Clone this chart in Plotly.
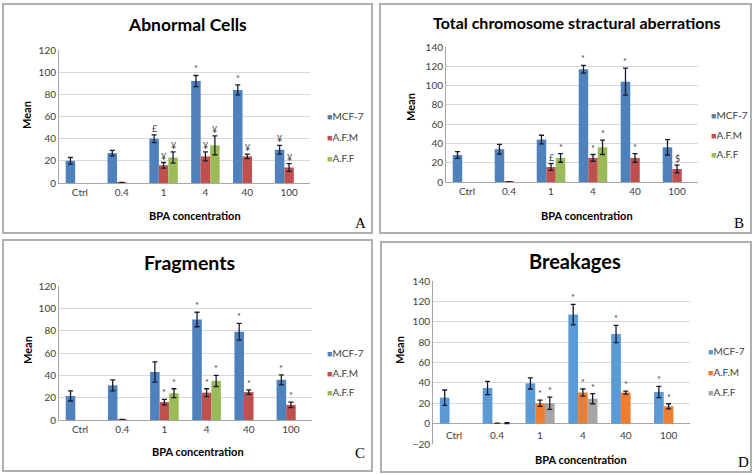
import plotly.graph_objects as go

W, H = 755, 475

categories = ["Ctrl", "0.4", "1", "4", "40", "100"]
series_names = ["MCF-7", "A.F.M", "A.F.F"]

# Panel A: Abnormal Cells (None = no bar shown)
a_mcf = [20, 27, 40, 92, 84, 30]
a_mcf_err = [3, 2.5, 3.5, 5, 4.5, 4]
a_afm = [None, 0.5, 16, 24, 24, 14]
a_afm_err = [None, None, 2.5, 4, 2, 3.5]
a_aff = [None, None, 23, 34, None, None]
a_aff_err = [None, None, 5, 8.5, None, None]
a_marks = [["", "", "£", "*", "*", "¥"], ["", "", "¥", "¥", "¥", "¥"], ["", "", "¥", "¥", "", ""]]

# Panel B: Total chromosome structural aberrations
b_mcf = [28, 34, 44, 117, 104, 36]
b_mcf_err = [3.5, 5, 4.5, 4, 14, 8]
b_afm = [None, 0.3, 15.5, 25, 25, 13.5]
b_afm_err = [None, None, 3.5, 3.5, 4.5, 4]
b_aff = [None, None, 25, 36, None, None]
b_aff_err = [None, None, 4.5, 7.5, None, None]
b_marks = [["", "", "", "*", "*", ""], ["", "", "£", "*", "*", "$"], ["", "", "*", "*", "", ""]]

# Panel C: Fragments
c_mcf = [21.5, 31, 43, 90, 79, 36]
c_mcf_err = [4.5, 5, 9, 6.5, 7.5, 4.5]
c_afm = [None, 0.5, 16, 24.5, 25, 13.5]
c_afm_err = [None, None, 2.5, 3.5, 2, 2.5]
c_aff = [None, None, 24, 35, None, None]
c_aff_err = [None, None, 4, 5, None, None]
c_marks = [["", "", "", "*", "*", "*"], ["", "", "*", "*", "*", "*"], ["", "", "*", "*", "", ""]]

# Panel D: Breakages
d_mcf = [25.5, 35, 39.5, 107, 88, 31]
d_mcf_err = [7.5, 6.5, 5.5, 10, 8.5, 5.5]
d_afm = [None, 0.5, 20, 30.5, 30.5, 17]
d_afm_err = [None, None, 3, 3.5, 1.5, 2.5]
d_aff = [None, 0.5, 20, 24.5, None, None]
d_aff_err = [None, 0.5, 6, 5, None, None]
d_marks = [["", "", "", "*", "*", "*"], ["", "", "*", "*", "*", "*"], ["", "", "*", "*", "", ""]]

colors_old = ["#4F81BD", "#C0504D", "#9BBB59"]
colors_new = ["#5B9BD5", "#ED7D31", "#A5A5A5"]

FONT = "Lato"
TXT = "#404040"

panels = [
    dict(title="Abnormal Cells", letter="A", vals=[a_mcf, a_afm, a_aff], errs=[a_mcf_err, a_afm_err, a_aff_err],
         marks=a_marks, colors=colors_old, yr=[0, 120], dt=20,
         px=(59, 310), py=(50, 183), frame=(3, 4, 372, 233), title_xy=(187, 25), tsize=17.5,
         mean_xy=(27, 115), bpa_xy=(195, 215), letter_xy=(360, 223), legend_x=325, legend_y=(116, 137, 158)),
    dict(title="Total chromosome stractural aberrations", letter="B", vals=[b_mcf, b_afm, b_aff], errs=[b_mcf_err, b_afm_err, b_aff_err],
         marks=b_marks, colors=colors_old, yr=[0, 140], dt=20,
         px=(446, 698), py=(47, 182), frame=(380, 4, 751, 233), title_xy=(577, 23), tsize=16,
         mean_xy=(410, 107), bpa_xy=(587, 215), letter_xy=(739, 223), legend_x=709, legend_y=(115, 135, 154)),
    dict(title="Fragments", letter="C", vals=[c_mcf, c_afm, c_aff], errs=[c_mcf_err, c_afm_err, c_aff_err],
         marks=c_marks, colors=colors_old, yr=[0, 120], dt=20,
         px=(59, 312), py=(286, 420), frame=(3, 240, 372, 471), title_xy=(189, 262), tsize=19.5,
         mean_xy=(27, 350), bpa_xy=(198, 451), letter_xy=(360, 453), legend_x=325, legend_y=(353, 373, 392)),
    dict(title="Breakages", letter="D", vals=[d_mcf, d_afm, d_aff], errs=[d_mcf_err, d_afm_err, d_aff_err],
         marks=d_marks, colors=colors_new, yr=[-20, 140], dt=20,
         px=(433, 690), py=(281, 444), frame=(381, 242, 751, 472), title_xy=(575, 261), tsize=20,
         mean_xy=(399, 350), bpa_xy=(581, 459), letter_xy=(743, 462), legend_x=706, legend_y=(351, 372, 392)),
]

xs = list(range(len(categories)))
BARGAP = 0.32
bw = (1 - BARGAP) / 3
offsets = [-bw, 0, bw]

fig = go.Figure()
annotations = []
shapes = []
layout = {}

for i, p in enumerate(panels):
    n = i + 1
    xa = "x" if n == 1 else f"x{n}"
    ya = "y" if n == 1 else f"y{n}"
    for s, name in enumerate(series_names):
        fig.add_trace(go.Bar(
            x=xs, y=p["vals"][s], name=name, xaxis=xa, yaxis=ya,
            marker=dict(color=p["colors"][s], line=dict(width=0)),
            error_y=dict(type="data", array=p["errs"][s], visible=True, color="#1a1a2e", thickness=1.3, width=2.5),
            showlegend=False, offsetgroup=str(s),
        ))
        for k, m in enumerate(p["marks"][s]):
            if m:
                e = p["errs"][s][k] or 0
                annotations.append(dict(x=xs[k] + offsets[s], y=p["vals"][s][k] + e, xref=xa, yref=ya,
                                        text=m, showarrow=False, yanchor="bottom", yshift=-1,
                                        font=dict(size=9, color="#404040", family=FONT)))
        # legend entry (swatch + label)
        annotations.append(dict(
            x=p["legend_x"] / W, y=1 - p["legend_y"][s] / H, xref="paper", yref="paper",
            text=f'<span style="color:{p["colors"][s]};font-size:9px">■</span>{name}',
            showarrow=False, xanchor="left", yanchor="middle",
            font=dict(size=10, color=TXT, family=FONT)))
    x0, x1 = p["px"]
    y0, y1 = p["py"]
    layout["xaxis" if n == 1 else f"xaxis{n}"] = dict(
        domain=[x0 / W, x1 / W], anchor=ya, range=[-0.5, len(categories) - 0.5],
        tickmode="array", tickvals=xs, ticktext=categories, showgrid=False,
        showline=(n != 4), linecolor="#A6A6A6", linewidth=1, ticks="",
        showticklabels=(n != 4),
        tickfont=dict(size=10, color=TXT, family=FONT), zeroline=False,
    )
    layout["yaxis" if n == 1 else f"yaxis{n}"] = dict(
        domain=[1 - y1 / H, 1 - y0 / H], anchor=xa, range=p["yr"], dtick=p["dt"],
        showgrid=True, gridcolor="#D9D9D9", gridwidth=1,
        showline=True, linecolor="#A6A6A6", linewidth=1, ticks="",
        tickfont=dict(size=10, color=TXT, family=FONT),
        zeroline=(n == 4), zerolinecolor="#A6A6A6", zerolinewidth=1,
    )
    if n == 4:
        for k, c in enumerate(categories):
            annotations.append(dict(x=xs[k], y=0, xref=xa, yref=ya, text=c, showarrow=False,
                                    yanchor="top", yshift=-3, font=dict(size=10, color=TXT, family=FONT)))
    fx0, fy0, fx1, fy1 = p["frame"]
    shapes.append(dict(type="rect", xref="paper", yref="paper", x0=fx0 / W, x1=fx1 / W,
                       y0=1 - fy1 / H, y1=1 - fy0 / H, line=dict(color="#B0B0B0", width=2)))
    tx, ty = p["title_xy"]
    annotations.append(dict(x=tx / W, y=1 - ty / H, xref="paper", yref="paper", text=f"<b>{p['title']}</b>",
                            showarrow=False, xanchor="center", yanchor="middle",
                            font=dict(size=p["tsize"], color="#000000", family=FONT)))
    mx, my = p["mean_xy"]
    annotations.append(dict(x=mx / W, y=1 - my / H, xref="paper", yref="paper", text="<b>Mean</b>",
                            showarrow=False, textangle=-90, xanchor="center", yanchor="middle",
                            font=dict(size=11, color="#000000", family=FONT)))
    bx, by = p["bpa_xy"]
    annotations.append(dict(x=bx / W, y=1 - by / H, xref="paper", yref="paper", text="<b>BPA concentration</b>",
                            showarrow=False, xanchor="center", yanchor="middle",
                            font=dict(size=11, color="#000000", family=FONT)))
    ex, ey = p["letter_xy"]
    annotations.append(dict(x=ex / W, y=1 - ey / H, xref="paper", yref="paper", text=p["letter"],
                            showarrow=False, xanchor="center", yanchor="middle",
                            font=dict(size=15, color="#000000", family="Liberation Serif")))

fig.update_layout(
    width=W, height=H, margin=dict(l=0, r=0, t=0, b=0, autoexpand=False),
    paper_bgcolor="white", plot_bgcolor="white",
    barmode="group", bargap=BARGAP, bargroupgap=0,
    annotations=annotations, shapes=shapes, showlegend=False,
)
fig.update_layout(**layout)

fig.write_html("out.html", config={"displayModeBar": False},
               post_script="document.body.style.margin='0';document.body.style.overflow='hidden';")
